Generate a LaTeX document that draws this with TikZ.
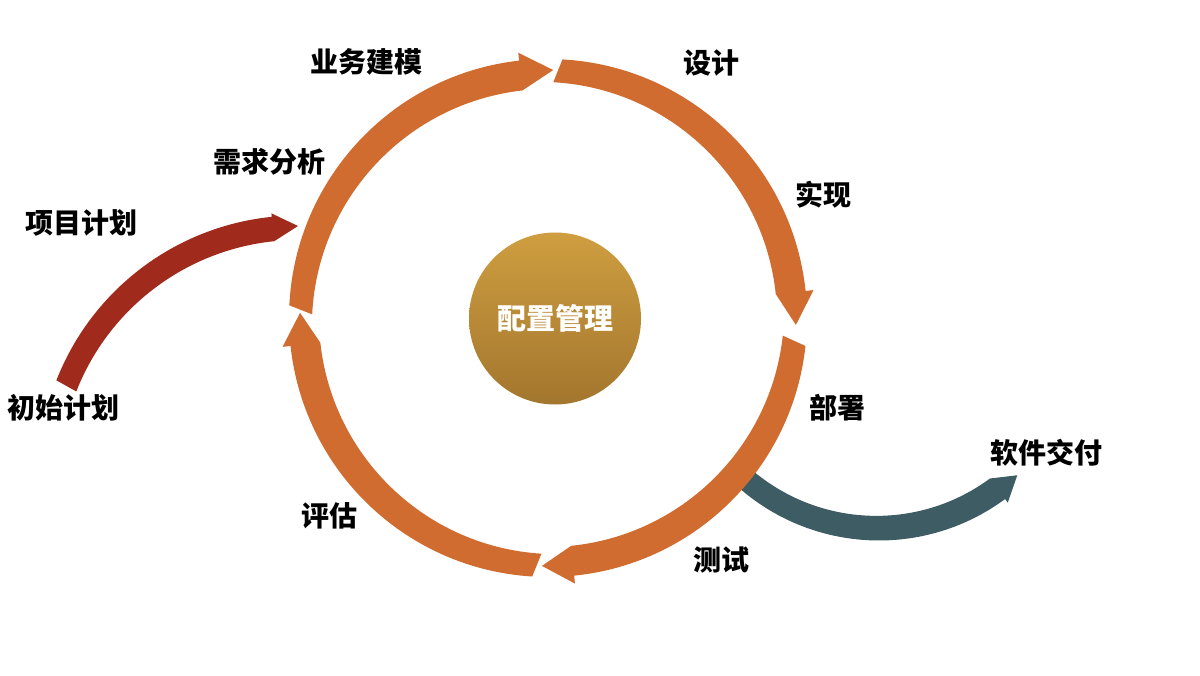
\documentclass[tikz,border=0pt]{standalone}
\usepackage{fontspec}
\newfontfamily\cjk{Noto Sans CJK SC}
\definecolor{ringor}{RGB}{208,108,47}
\definecolor{planred}{RGB}{160,42,28}
\definecolor{deliv}{RGB}{61,92,99}
\definecolor{goldtop}{RGB}{207,158,64}
\definecolor{goldbot}{RGB}{163,118,46}
% #1 colour, #2 cx, #3 cy, #4 mid radius, #5 half band, #6 half head, #7 start angle, #8 head base angle, #9 tip angle
\newcommand{\arcarrow}[9]{%
\begin{scope}[shift={(#2,#3)}]
\fill[#1] (#7:{#4+#5}) arc[start angle=#7, end angle=#8, radius={#4+#5}]
  -- (#8:{#4+#6}) -- (#9:#4) -- (#8:{#4-#6})
  arc[start angle=#8, end angle=#7, radius={#4-#5}] -- cycle;
\end{scope}}
\begin{document}
\begin{tikzpicture}[x=1pt,y=1pt,
  lbl/.style={font=\cjk\bfseries\fontsize{28}{32}\selectfont, text=black, inner sep=0pt},
  hub/.style={circle, minimum size=172pt, inner sep=0pt, top color=goldtop, bottom color=goldbot,
     font=\cjk\bfseries\fontsize{29}{32}\selectfont, text=white}]
\path[use as bounding box] (0,0) rectangle (1200,-676);
% delivery arrow (under the ring)
\arcarrow{deliv}{879}{-328}{202}{10.5}{15}{-135}{-53.6}{-46.8}
% ring
\arcarrow{ringor}{548}{-318}{248}{11}{19}{177.2}{96.4}{88.8}
\arcarrow{ringor}{548}{-318}{248}{11}{19}{86.8}{6.0}{-1.6}
\arcarrow{ringor}{548}{-318}{248}{11}{19}{-6.2}{-84.2}{-91.4}
\arcarrow{ringor}{548}{-318}{248}{11}{19}{-93.5}{-173.8}{-181.2}
% plan arrow
\arcarrow{planred}{298}{-475}{249}{10.5}{14}{158.6}{95.8}{90}
% hub
\node[hub] (cm) at (555,-318.5) {配置管理};
% labels
\node[lbl] (ywjm) at (366,-62) {业务建模};
\node[lbl] (sj) at (711,-63) {设计};
\node[lbl] (xqfx) at (269,-162) {需求分析};
\node[lbl] (sx) at (823,-195) {实现};
\node[lbl] (xmjh) at (81,-223) {项目计划};
\node[lbl] (csjh) at (64,-408) {初始计划};
\node[lbl] (bs) at (837,-408) {部署};
\node[lbl] (rjjf) at (1046,-453) {软件交付};
\node[lbl] (pg) at (329,-516) {评估};
\node[lbl] (cs) at (721,-560) {测试};
\end{tikzpicture}
\end{document}
